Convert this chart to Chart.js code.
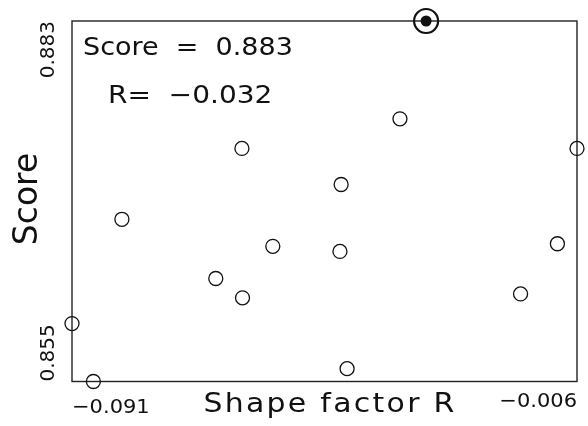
<!DOCTYPE html>
<html>
<head>
<meta charset="utf-8">
<script src="https://cdn.jsdelivr.net/npm/chart.js@4/dist/chart.umd.min.js"></script>
<style>
  html, body { margin: 0; padding: 0; background: #fff; }
  #chart { display: block; }
</style>
</head>
<body>
<canvas id="chart" width="588" height="426"></canvas>
<script>
// values
const shapeFactor = [-0.0358, -0.0624, -0.006, -0.0457, -0.0826, -0.0572, -0.0459, -0.0093, -0.0668, -0.0623, -0.0155, -0.091, -0.0447, -0.0874];
const scores = [0.8754, 0.8731, 0.8731, 0.8703, 0.8676, 0.8655, 0.8651, 0.8657, 0.8630, 0.8615, 0.8618, 0.8595, 0.8560, 0.855];

// best point (circled)
const bestShape = [-0.0314];
const bestScore = [0.883];

const xRange = [-0.091, -0.006];
const yRange = [0.855, 0.883];
const xTickLabels = ['\u22120.091', '\u22120.006'];
const yTickLabels = ['0.855', '0.883'];

const xTitle = 'Shape factor R';
const yTitle = 'Score';
const noteLines = ['Score  =  0.883', 'R=  \u22120.032'];

const toPoints = (xs, ys) => xs.map((x, i) => ({ x: x, y: ys[i] }));

const FONT = '"DejaVu Sans", sans-serif';

const framePlugin = {
    id: 'frame',
    beforeDatasetsDraw(chart) {
        const { ctx, chartArea } = chart;
        ctx.save();
        ctx.strokeStyle = '#222';
        ctx.lineWidth = 1.4;
        ctx.strokeRect(chartArea.left, chartArea.top, chartArea.right - chartArea.left, chartArea.bottom - chartArea.top);
        ctx.restore();
    },
    afterDraw(chart) {
        const { ctx, chartArea } = chart;
        const xs = chart.scales.x;
        const ys = chart.scales.y;
        ctx.save();
        ctx.fillStyle = '#111';
        ctx.textBaseline = 'alphabetic';

        // text stretched sideways a bit, the original font is wider
        const drawWide = (text, x, y, align, sx) => {
            ctx.save();
            ctx.translate(x, y);
            ctx.scale(sx, 1);
            ctx.textAlign = align;
            ctx.fillText(text, 0, 0);
            ctx.restore();
        };
        const drawRotated = (text, x, y, align) => {
            ctx.save();
            ctx.translate(x, y);
            ctx.rotate(-Math.PI / 2);
            ctx.textAlign = align;
            ctx.fillText(text, 0, 0);
            ctx.restore();
        };

        // x tick labels: first flush left, last flush right
        ctx.font = '20px ' + FONT;
        drawWide(xTickLabels[0], xs.getPixelForValue(xRange[0]), 413, 'left', 1.05);
        drawWide(xTickLabels[1], xs.getPixelForValue(xRange[1]), 407, 'right', 1.05);

        // y tick labels, rotated
        drawRotated(yTickLabels[0], 54, ys.getPixelForValue(yRange[0]), 'left');
        drawRotated(yTickLabels[1], 54, ys.getPixelForValue(yRange[1]), 'right');

        // axis titles
        ctx.font = '26px ' + FONT;
        ctx.letterSpacing = '2px';
        drawWide(xTitle, 330, 412, 'center', 1.15);
        ctx.letterSpacing = '0px';
        ctx.font = '33px ' + FONT;
        drawRotated(yTitle, 37, 199, 'center');

        // note in the top left corner
        ctx.font = '25px ' + FONT;
        drawWide(noteLines[0], chartArea.left + 11, 55, 'left', 1.08);
        drawWide(noteLines[1], chartArea.left + 36, 103, 'left', 1.12);
        ctx.restore();
    }
};

new Chart(document.getElementById('chart'), {
    type: 'scatter',
    data: {
        datasets: [{
            data: toPoints(shapeFactor, scores),
            pointRadius: 7,
            pointBorderWidth: 1.3,
            pointBorderColor: '#111',
            pointBackgroundColor: 'rgba(0,0,0,0)',
            clip: false
        }, {
            data: toPoints(bestShape, bestScore),
            pointRadius: 12,
            pointBorderWidth: 2.2,
            pointBorderColor: '#111',
            pointBackgroundColor: 'rgba(0,0,0,0)',
            clip: false
        }, {
            data: toPoints(bestShape, bestScore),
            pointRadius: 5.5,
            pointBorderWidth: 0,
            pointBackgroundColor: '#111',
            clip: false
        }]
    },
    options: {
        responsive: false,
        animation: false,
        layout: { autoPadding: false, padding: { left: 72, top: 21, right: 11, bottom: 44.5 } },
        plugins: { legend: { display: false }, tooltip: { enabled: false } },
        scales: {
            x: { type: 'linear', min: xRange[0], max: xRange[1], display: false },
            y: { type: 'linear', min: yRange[0], max: yRange[1], display: false }
        }
    },
    plugins: [framePlugin]
});
</script>
</body>
</html>
